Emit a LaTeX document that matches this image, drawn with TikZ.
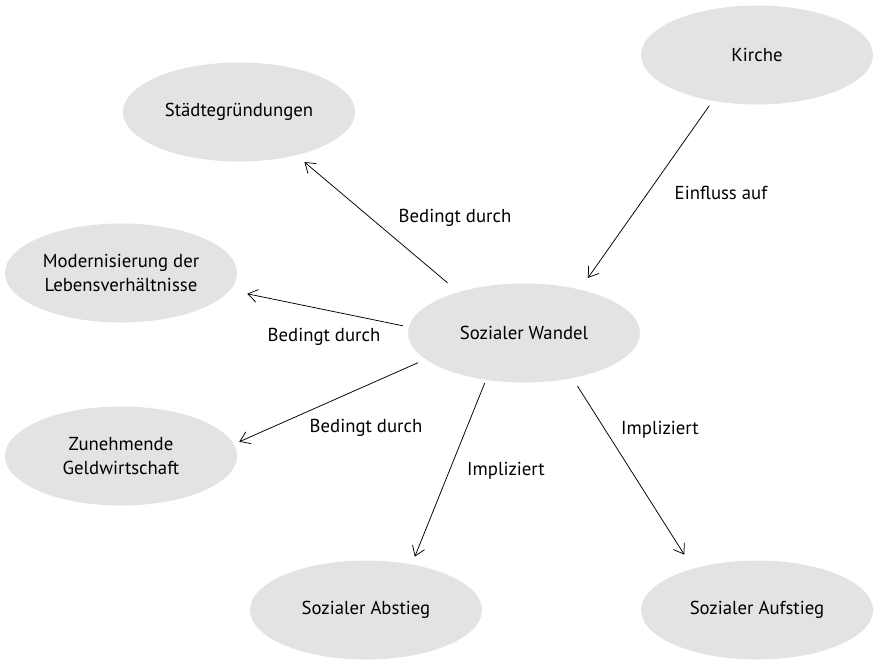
\documentclass[tikz,border=0pt]{standalone}
\usepackage{fontspec}
\setmainfont{PT Sans}
\usetikzlibrary{shapes.geometric,arrows.meta}
\definecolor{bubble}{HTML}{E3E3E3}
\tikzset{
  topic/.style={ellipse, fill=bubble, minimum width=6.96cm, minimum height=2.97cm, align=center, font=\fontsize{16}{21}\selectfont},
  rel/.style={font=\fontsize{16}{21}\selectfont},
  link/.style={-{Straight Barb[length=8pt,width=11pt]}, line width=0.65pt}
}
\begin{document}
\begin{tikzpicture}[x=0.03cm, y=-0.03cm]
\useasboundingbox (0,0) rectangle (873,659);
\node[topic] (kirche) at (757,55){Kirche};
\node[topic] (staedte) at (239,112){Städtegründungen};
\node[topic] (modern) at (121,273){Modernisierung der\\Lebensverhältnisse};
\node[topic] (wandel) at (524,333){Sozialer Wandel};
\node[topic] (geld) at (121,456){Zunehmende\\Geldwirtschaft};
\node[topic] (abstieg) at (366,610){Sozialer Abstieg};
\node[topic] (aufstieg) at (757,610){Sozialer Aufstieg};
\node[rel] (l1) at (455,218){Bedingt durch};
\node[rel] (l2) at (721,193){Einfluss auf};
\node[rel] (l3) at (324,337){Bedingt durch};
\node[rel] (l4) at (366,428){Bedingt durch};
\node[rel] (l5) at (506,471){Impliziert};
\node[rel] (l6) at (660,430){Impliziert};
\draw[link, shorten <=12pt, shorten >=9pt](wandel.148) -- (staedte.-37);
\draw[link, shorten <=5pt, shorten >=15pt](wandel.177) -- (modern.-9);
\draw[link, shorten <=7pt, shorten >=5pt](wandel.195) -- (geld.6);
\draw[link, shorten <=3pt, shorten >=7pt](wandel.231) -- (abstieg.45);
\draw[link, shorten <=8pt, shorten >=14pt](wandel.-43) -- (aufstieg.147);
\draw[link, shorten <=5pt, shorten >=12pt](kirche.226) -- (wandel.38);
\end{tikzpicture}
\end{document}
